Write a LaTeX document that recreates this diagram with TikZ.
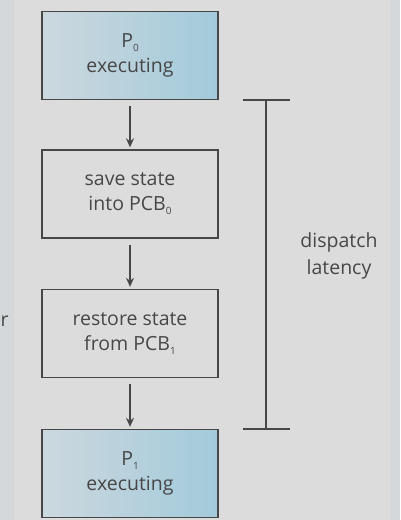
\documentclass[tikz,border=0pt]{standalone}
\usepackage{fontspec}
\usetikzlibrary{arrows.meta}
\setmainfont{Open Sans}
\definecolor{bg}{HTML}{DCDCDC}
\definecolor{side}{HTML}{D4D8DB}
\definecolor{ink}{HTML}{474747}
\definecolor{gl}{HTML}{CCD8DE}
\definecolor{gr}{HTML}{A2CADB}
\newcommand{\lowsub}[1]{\raisebox{-4pt}{\fontsize{10}{10}\selectfont #1}}
\begin{document}
\begin{tikzpicture}[x=1pt,y=-1pt,
  stepbox/.style={draw=ink,line width=1.3pt,minimum width=176pt,minimum height=88pt,inner sep=0pt,
    align=center,text=ink,font=\fontsize{19.5}{25}\selectfont},
  procbox/.style={stepbox,left color=gl,right color=gr},
  arr/.style={draw=ink,line width=1.3pt,-{Stealth[length=9pt,width=8pt]}},
  brk/.style={draw=ink,line width=1.3pt}]
\fill[bg] (0,0) rectangle (400,520);
\fill[side] (0,0) rectangle (14,520);
\fill[side] (390,0) rectangle (400,520);
\useasboundingbox (0,0) rectangle (400,520);
\node[procbox] (p0) at (130,55.5) {P\lowsub{0}\\executing};
\node[stepbox] (save) at (130,194) {save state\\into PCB\lowsub{0}};
\node[stepbox] (rest) at (130,333.5) {restore state\\from PCB\lowsub{1}};
\node[procbox] (p1) at (130,473.5) {P\lowsub{1}\\executing};
\draw[arr] ([yshift=-6pt]p0.south) -- ([yshift=2pt]save.north);
\draw[arr] ([yshift=-6pt]save.south) -- ([yshift=2pt]rest.north);
\draw[arr] ([yshift=-6pt]rest.south) -- ([yshift=2pt]p1.north);
\coordinate (bt) at (266,100);
\coordinate (bb) at (266,429);
\draw[brk] (243,100) -- (290,100);
\draw[brk] (243,429) -- (290,429);
\draw[brk] (bt) -- (bb);
\node[text=ink,align=center,font=\fontsize{19.5}{27}\selectfont] (lat) at (339,256) {dispatch\\latency};
\node[text=ink,font=\fontsize{19.5}{25}\selectfont,anchor=west,inner sep=0pt] (r) at (0.5,321) {r};
\end{tikzpicture}
\end{document}
